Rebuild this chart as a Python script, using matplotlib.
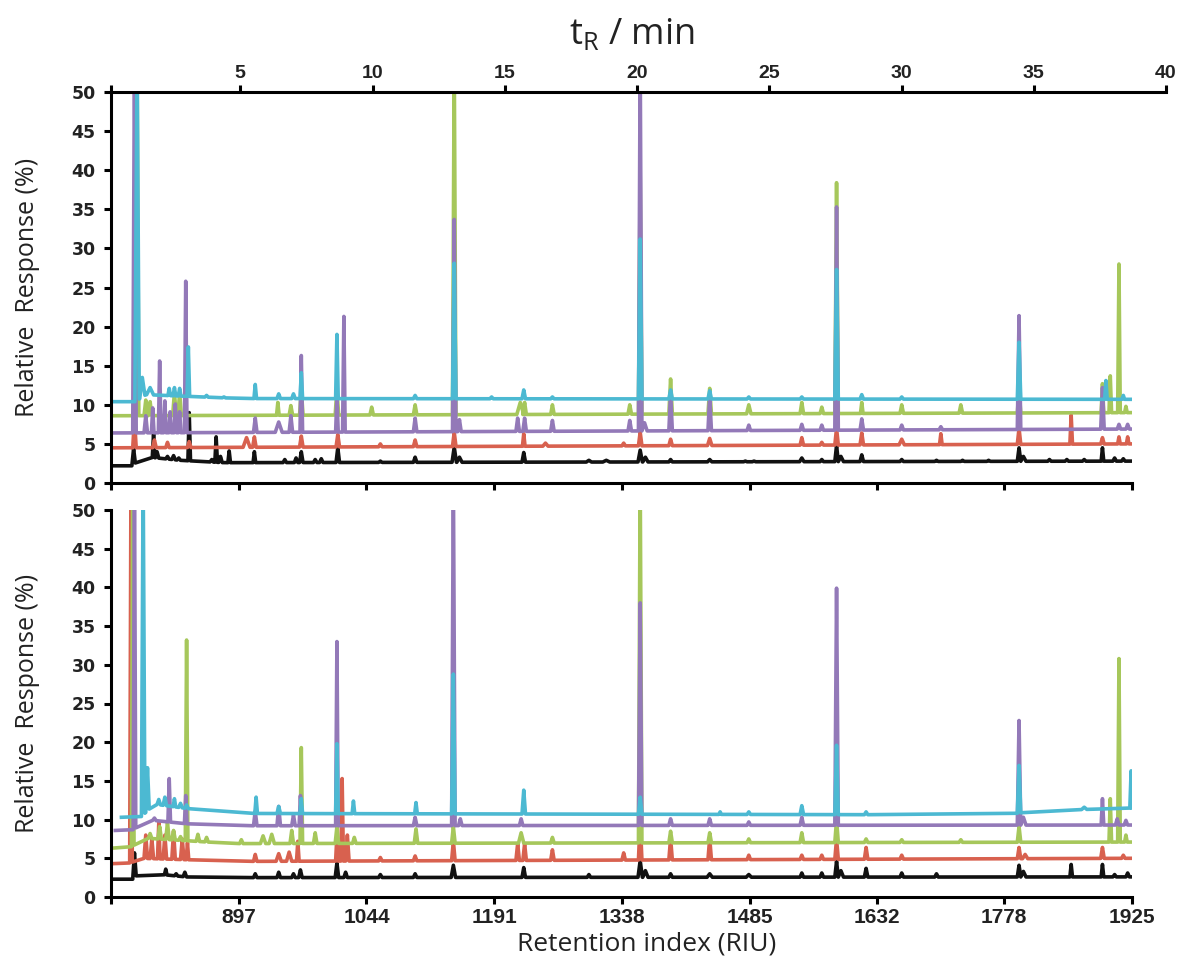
import numpy as np
import matplotlib
matplotlib.use('Agg')
import matplotlib.pyplot as plt
from matplotlib import font_manager

# ---- data (RIU position, response %, half width) ----
riu_ticks = [897, 1044, 1191, 1338, 1485, 1632, 1778, 1925]
time_ticks = [5, 10, 15, 20, 25, 30, 35, 40]
y_ticks = [0, 5, 10, 15, 20, 25, 30, 35, 40, 45, 50]

colors = ['#111111', '#d8614f', '#a6c75b', '#9379b8', '#4cb9d2']  # black, red, green, purple, cyan

# upper panel
top_black = [(776, 4.4, 2), (799, 6.3, 1.5), (803, 4.0, 2), (815, 3.4, 2), (822, 3.5, 2),
             (828, 3.2, 2), (840, 9.0, 1.5), (866, 3.0, 2), (871, 5.9, 1.5), (876, 3.4, 2),
             (886, 4.1, 1.5), (915, 4.0, 1.5), (950, 3.0, 2), (963, 3.2, 2), (969, 4.0, 2),
             (985, 3.0, 2), (992, 3.1, 2), (1011, 4.5, 2), (1060, 2.8, 2), (1100, 3.3, 2),
             (1145, 4.6, 2.5), (1151, 3.3, 3), (1225, 3.9, 2), (1300, 2.9, 3), (1320, 2.9, 4),
             (1359, 4.2, 2.5), (1365, 3.3, 3), (1394, 3.0, 2), (1439, 3.0, 2.5), (1480, 2.8, 2),
             (1490, 2.8, 2), (1545, 3.2, 2.5), (1568, 3.0, 2), (1585, 4.8, 2), (1590, 3.4, 3),
             (1614, 3.6, 2), (1660, 3.0, 2), (1700, 2.9, 2), (1730, 2.9, 2), (1760, 2.9, 2),
             (1795, 4.5, 2), (1800, 3.4, 3), (1830, 3.0, 2), (1850, 3.0, 2), (1870, 3.0, 2),
             (1891, 4.5, 1.5), (1905, 3.2, 2), (1915, 3.1, 2)]
top_red = [(777, 8.2, 2), (800, 5.5, 2), (815, 5.2, 2), (840, 5.3, 2), (906, 5.8, 4),
           (915, 5.9, 2), (969, 6.0, 2), (1011, 6.2, 2), (1060, 5.0, 2), (1100, 5.5, 2),
           (1145, 6.5, 2), (1225, 6.3, 1.5), (1250, 5.1, 3), (1340, 5.1, 2), (1359, 6.5, 2),
           (1394, 5.6, 2), (1439, 5.7, 2.5), (1545, 5.8, 2), (1568, 5.2, 2), (1585, 7.0, 2),
           (1614, 6.4, 2), (1660, 5.6, 3), (1705, 6.3, 1.5), (1795, 7.0, 2), (1855, 8.7, 1.5),
           (1891, 5.8, 2), (1910, 5.9, 1.5), (1920, 5.9, 1.5)]
top_green = [(780, 55, 2), (790, 10.6, 2), (795, 10.4, 2), (823, 11.6, 2), (829, 11.6, 2),
             (942, 10.3, 1.5), (957, 9.9, 2), (969, 12.0, 2), (1010, 12.0, 2), (1050, 9.7, 2),
             (1100, 10.0, 2), (1145, 55, 2), (1221, 10.3, 4), (1226, 10.3, 2), (1258, 10.0, 2),
             (1347, 10.0, 2), (1359, 40, 2), (1394, 13.3, 2), (1439, 12.1, 2), (1484, 10.0, 2.5),
             (1545, 10.3, 2), (1568, 9.7, 2), (1585, 38.4, 2), (1614, 10.3, 1.5), (1660, 10.0, 2),
             (1728, 10.0, 2), (1795, 12.0, 2), (1891, 12.7, 1.5), (1900, 13.7, 1.5),
             (1910, 28.0, 1.5), (1918, 9.8, 1.5)]
top_purple = [(777, 55, 2), (790, 8.6, 2), (798, 9.6, 1.5), (806, 15.6, 1.5), (812, 10.5, 1.5),
              (818, 9.1, 1.5), (824, 10.1, 1.5), (829, 9.1, 1.5), (836, 25.8, 1.5), (916, 8.3, 2),
              (943, 7.8, 4), (957, 8.6, 2), (969, 16.3, 1.5), (1010, 11.0, 1.5), (1018, 21.3, 1.5),
              (1100, 8.3, 2), (1145, 33.7, 2), (1151, 8.1, 2), (1218, 8.3, 2), (1226, 8.3, 2),
              (1258, 8.0, 2), (1347, 8.0, 2), (1359, 55, 2), (1364, 7.7, 3), (1394, 11.6, 2),
              (1439, 11.1, 2), (1484, 7.4, 2), (1545, 7.5, 2), (1568, 7.4, 2), (1585, 35.3, 2),
              (1614, 8.2, 2), (1660, 7.4, 2), (1705, 7.2, 2), (1795, 21.4, 2), (1891, 12.2, 2),
              (1910, 7.5, 2), (1920, 7.5, 2)]
top_cyan = [(780, 55, 2.5), (786, 13.5, 3), (795, 12.2, 4), (817, 12.1, 1.5), (823, 12.2, 1.5),
            (829, 12.1, 1.5), (839, 17.4, 1.5), (860, 11.2, 2), (880, 11.0, 2), (916, 12.6, 1.5),
            (943, 11.4, 2), (960, 11.4, 2), (969, 14.1, 1.5), (1010, 19.0, 1.5), (1100, 11.2, 2),
            (1145, 28.1, 2), (1188, 11.0, 2), (1225, 11.9, 2), (1258, 11.0, 2), (1359, 31.2, 2),
            (1394, 11.9, 2), (1439, 11.8, 2), (1484, 11.0, 2), (1545, 11.0, 2), (1585, 27.3, 2),
            (1614, 11.3, 2), (1660, 11.0, 2), (1795, 18.0, 2), (1895, 13.1, 1.5), (1915, 11.2, 1.5)]

top_base_black = [(750, 2.2), (775, 2.2), (785, 3.4), (830, 2.9), (880, 2.6), (1925, 2.8)]
top_base_red = [(750, 4.5), (1925, 5.0)]
top_base_green = [(750, 8.6), (1925, 9.0)]
top_base_purple = [(750, 6.4), (1925, 6.9)]
top_base_cyan = [(750, 10.4), (778, 10.4), (790, 11.3), (900, 10.8), (1925, 10.7)]

# lower panel
bot_black = [(777, 5.7, 2), (813, 3.6, 1.5), (825, 3.0, 2), (835, 3.2, 2), (916, 3.0, 2),
             (943, 3.2, 2), (960, 3.0, 2), (968, 3.5, 2), (1010, 4.4, 2), (1020, 3.2, 2),
             (1060, 2.9, 2), (1100, 3.0, 2), (1144, 4.1, 2.5), (1225, 3.8, 2), (1300, 2.9, 2),
             (1359, 4.7, 2.5), (1365, 3.4, 3), (1394, 3.0, 2), (1439, 3.0, 3), (1484, 2.9, 3),
             (1545, 3.1, 2), (1568, 3.1, 2), (1585, 4.6, 2), (1590, 3.4, 3), (1619, 3.7, 2),
             (1660, 3.1, 2), (1700, 3.0, 2), (1795, 4.1, 2), (1800, 3.3, 3), (1855, 4.2, 1.5),
             (1891, 4.2, 1.5), (1905, 2.9, 2), (1920, 3.1, 2)]
bot_red = [(773, 55, 1.5), (790, 8.0, 2), (797, 7.5, 2), (805, 9.6, 1.5), (812, 8.0, 2),
           (822, 8.5, 2), (832, 7.5, 2), (838, 7.0, 1.5), (916, 5.5, 2), (943, 5.6, 3),
           (955, 5.8, 3), (965, 7.2, 1.5), (1010, 8.0, 1.5), (1016, 15.3, 1.5), (1022, 8.0, 2),
           (1060, 5.1, 2), (1100, 5.3, 2), (1144, 7.2, 2), (1218, 6.9, 2), (1226, 6.9, 2),
           (1258, 6.1, 2), (1340, 5.7, 2), (1359, 10.0, 2), (1394, 7.6, 2), (1439, 7.6, 2),
           (1484, 5.4, 2), (1545, 5.4, 2), (1568, 5.4, 2), (1585, 7.5, 2), (1619, 6.4, 2),
           (1660, 5.4, 2), (1795, 6.4, 2), (1802, 5.5, 3), (1891, 6.4, 2), (1915, 5.4, 2)]
bot_green = [(775, 55, 1.5), (795, 8.2, 2), (806, 9.1, 2), (815, 9.6, 2), (822, 8.6, 2),
             (830, 7.8, 2), (837, 33.2, 1.5), (850, 8.1, 2), (860, 7.7, 2), (900, 7.4, 2),
             (925, 7.9, 3), (935, 8.1, 3), (958, 8.6, 2), (969, 19.3, 1.5), (985, 8.3, 2),
             (1010, 9.1, 2), (1030, 7.7, 2), (1101, 8.8, 2), (1144, 9.1, 2), (1222, 8.3, 3),
             (1258, 7.7, 2), (1359, 55, 2), (1394, 8.5, 2), (1439, 8.3, 2), (1484, 7.5, 2),
             (1545, 8.3, 2), (1585, 10.0, 2), (1619, 7.5, 2), (1660, 7.4, 2), (1728, 7.4, 2),
             (1795, 9.1, 2), (1900, 12.7, 1.5), (1910, 30.8, 1.5), (1918, 8.0, 1.5)]
bot_purple = [(777, 55, 1.5), (800, 10.2, 2), (817, 15.3, 1.5), (836, 13.1, 1.5), (916, 11.1, 2),
              (943, 11.7, 2), (960, 10.6, 2), (968, 13.1, 1.5), (1010, 33.0, 1.5), (1100, 10.3, 2),
              (1144, 55, 2), (1152, 10.1, 2), (1222, 10.1, 2), (1359, 38.0, 2), (1394, 10.1, 2),
              (1439, 10.1, 2), (1484, 9.7, 2), (1545, 10.3, 2), (1585, 39.9, 2), (1795, 22.8, 2),
              (1800, 10.3, 3), (1891, 12.7, 1.5), (1908, 10.1, 2), (1918, 9.9, 2)]
bot_cyan = [(787, 55, 2), (792, 16.7, 2), (805, 12.6, 2), (812, 12.9, 2), (823, 12.7, 1.5),
            (830, 12.1, 2), (837, 11.9, 2), (917, 12.9, 1.5), (943, 11.7, 2), (969, 12.7, 1.5),
            (1010, 19.8, 1.5), (1029, 12.4, 1.5), (1101, 12.2, 1.5), (1144, 28.8, 2),
            (1225, 13.8, 2), (1359, 12.9, 2), (1451, 11.0, 1.5), (1484, 11.0, 2), (1545, 11.8, 2),
            (1585, 19.6, 2), (1619, 11.0, 2), (1795, 17.0, 2), (1870, 11.6, 3), (1924, 16.3, 1.5)]

bot_base_black = [(750, 2.3), (776, 2.3), (785, 3.6), (800, 3.0), (845, 2.5), (1925, 2.6)]
bot_base_red = [(750, 4.3), (772, 4.4), (785, 5.0), (900, 4.6), (1925, 5.0)]
bot_base_green = [(750, 6.3), (772, 6.4), (790, 7.6), (890, 6.9), (1925, 7.1)]
bot_base_purple = [(755, 8.6), (776, 8.7), (790, 10.0), (860, 9.2), (1925, 9.3)]
bot_base_cyan = [(762, 10.3), (785, 10.4), (800, 12.0), (880, 10.8), (1780, 10.6), (1810, 11.1),
                 (1925, 11.5)]

top_traces = [(top_black, top_base_black), (top_red, top_base_red), (top_green, top_base_green),
              (top_purple, top_base_purple), (top_cyan, top_base_cyan)]
bot_traces = [(bot_black, bot_base_black), (bot_red, bot_base_red), (bot_green, bot_base_green),
              (bot_purple, bot_base_purple), (bot_cyan, bot_base_cyan)]


def trace_xy(peaks, base):
    bx = [b[0] for b in base]
    by = [b[1] for b in base]
    xs, ys = [bx[0]], [by[0]]
    for p, top, hw in sorted(peaks):
        xs += [p - hw, p, p + hw]
        ys += [np.interp(p - hw, bx, by), top, np.interp(p + hw, bx, by)]
    xs.append(bx[-1])
    ys.append(by[-1])
    return xs, ys


names = {f.name for f in font_manager.fontManager.ttflist}
narrow = 'Liberation Sans Narrow' if 'Liberation Sans Narrow' in names else 'Liberation Sans'
label_font = 'Open Sans'

W, H = 1181, 956
fig = plt.figure(figsize=(W / 100, H / 100), dpi=100)


def px_box(l, t, r, b):
    return [l / W, 1 - b / H, (r - l) / W, (b - t) / H]


ax_top = fig.add_axes(px_box(111, 92, 1132, 483))
ax_bot = fig.add_axes(px_box(111, 510, 1132, 897))

for ax, traces in [(ax_top, top_traces), (ax_bot, bot_traces)]:
    for (peaks, base), c in zip(traces, colors):
        xs, ys = trace_xy(peaks, base)
        ax.plot(xs, ys, color=c, lw=2.6)
    ax.set_xlim(750, 1925)
    ax.set_ylim(0, 50)
    ax.set_yticks(y_ticks)
    ax.set_xticks(riu_ticks)
    ax.set_xticks([750], minor=True)
    for s in ['top', 'right']:
        ax.spines[s].set_visible(False)
    for s in ['left', 'bottom']:
        ax.spines[s].set_linewidth(2.2)
    ax.tick_params(axis='y', direction='out', length=5, width=2.2, pad=6, labelsize=12.5)
    ax.tick_params(axis='x', which='both', direction='out', length=5, width=2.2, pad=3, labelsize=15)
    for lab in ax.get_yticklabels():
        lab.set_fontweight('bold')
        lab.set_fontfamily('DejaVu Sans')
        lab.set_color('#222222')
    for lab in ax.get_xticklabels():
        lab.set_fontweight('bold')
        lab.set_fontfamily('Liberation Sans')
        lab.set_color('#222222')

ax_top.tick_params(axis='x', labelbottom=False)

# time axis on top
ax_time = fig.add_axes(px_box(111, 92, 1166, 483))
ax_time.patch.set_visible(False)
for s in ['left', 'right', 'bottom']:
    ax_time.spines[s].set_visible(False)
ax_time.spines['top'].set_linewidth(2.2)
ax_time.set_xlim(0.113, 40)
ax_time.set_yticks([])
ax_time.xaxis.tick_top()
ax_time.set_xticks(time_ticks)
ax_time.set_xticks([0.113], minor=True)
ax_time.tick_params(axis='x', which='both', direction='out', length=5, width=2.2, pad=2, labelsize=14)
for lab in ax_time.get_xticklabels():
    lab.set_fontweight('bold')
    lab.set_fontfamily(narrow)
    lab.set_color('#222222')

fig.text(632 / W, 1 - 35 / H, r'$\mathregular{t_R}$ / min', ha='center', va='center',
         fontsize=26, family=label_font, color='#222222')
for yc in [287, 703]:
    fig.text(28 / W, 1 - yc / H, 'Relative  Response (%)', rotation=90, ha='center', va='center',
             fontsize=18, family=label_font, color='#222222')
fig.text(647 / W, 1 - 944 / H, 'Retention index (RIU)', ha='center', va='center',
         fontsize=19, family=label_font, color='#222222')

fig.savefig('out.png', dpi=100)
